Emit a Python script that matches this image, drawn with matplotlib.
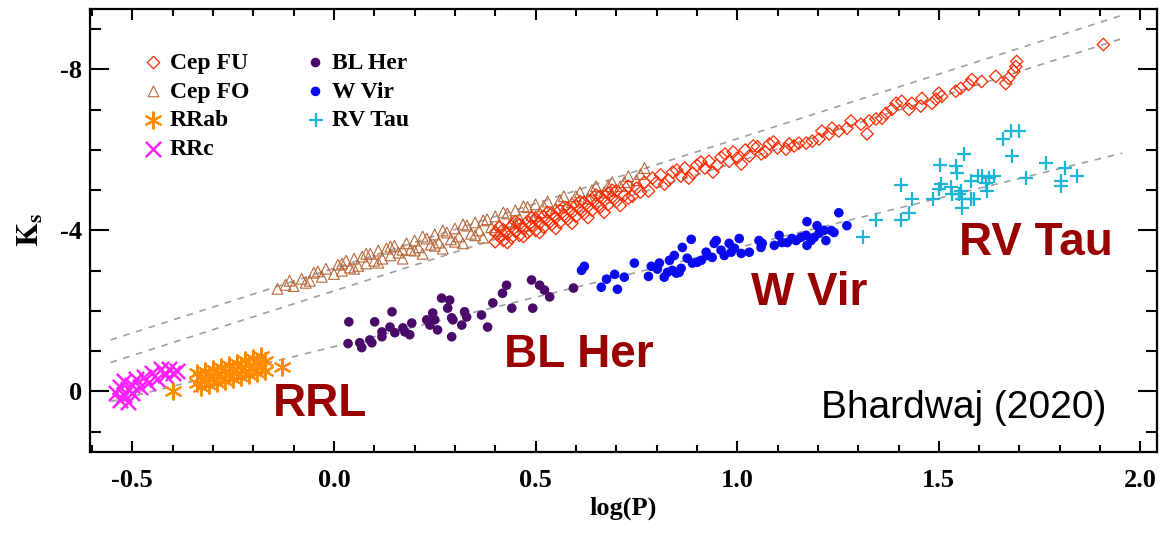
import matplotlib
matplotlib.use("Agg")
import matplotlib.pyplot as plt
from matplotlib.ticker import MultipleLocator

plt.rcParams['font.family'] = 'Liberation Serif'
plt.rcParams['font.weight'] = 'bold'
plt.rcParams['mathtext.fontset'] = 'stix'

# ---- data: (log P, Ks) ----
cepfu_logp = [0.40, 0.40, 0.41, 0.42, 0.42, 0.43, 0.44, 0.44, 0.45, 0.46, 0.46, 0.47,
              0.48, 0.48, 0.49, 0.50, 0.50, 0.51, 0.52, 0.52, 0.53, 0.54, 0.54, 0.55,
              0.56, 0.56, 0.57, 0.58, 0.58, 0.59, 0.60, 0.60, 0.61, 0.62, 0.62, 0.63,
              0.64, 0.64, 0.65, 0.66, 0.66, 0.67, 0.68, 0.68, 0.69, 0.70, 0.70, 0.72,
              0.73, 0.74, 0.75, 0.77, 0.78, 0.80, 0.81, 0.83, 0.84, 0.86, 0.87, 0.89,
              0.90, 0.92, 0.93, 0.95, 0.96, 0.98, 0.99, 1.00, 1.02, 1.03, 1.05, 1.07,
              1.08, 1.10,
              0.41, 0.43, 0.45, 0.47, 0.49, 0.51, 0.53, 0.55, 0.57, 0.59, 0.61, 0.63,
              0.65, 0.67, 0.69, 0.71, 0.73, 0.76, 0.79, 0.82, 0.85, 0.88, 0.91, 0.94,
              0.97, 1.01, 1.04, 1.06, 1.09,
              1.121, 1.129, 1.141, 1.153, 1.171, 1.186, 1.203, 1.210, 1.228, 1.235,
              1.252, 1.272, 1.282, 1.307, 1.322, 1.327, 1.344, 1.359, 1.369, 1.384,
              1.394, 1.408, 1.426, 1.433, 1.455, 1.458, 1.483, 1.493, 1.500, 1.507,
              1.542, 1.554, 1.574, 1.582, 1.606, 1.641, 1.666, 1.673, 1.686, 1.691,
              1.693, 1.908]
cepfu_ks = [-3.72, -3.95, -3.85, -4.02, -3.75, -3.92, -4.10, -3.82, -3.98, -4.15, -3.88, -4.05,
            -4.22, -3.95, -4.12, -4.30, -4.00, -4.18, -4.35, -4.08, -4.25, -4.42, -4.15, -4.32,
            -4.50, -4.20, -4.38, -4.55, -4.28, -4.45, -4.62, -4.35, -4.52, -4.70, -4.42, -4.60,
            -4.78, -4.50, -4.66, -4.85, -4.58, -4.74, -4.92, -4.64, -4.82, -4.98, -4.72, -4.88,
            -5.10, -4.85, -5.05, -5.20, -4.98, -5.20, -5.38, -5.25, -5.45, -5.35, -5.55, -5.42,
            -5.62, -5.55, -5.72, -5.62, -5.82, -5.72, -5.95, -5.80, -6.00, -5.85, -6.08, -5.95,
            -6.15, -6.05,
            -4.08, -3.70, -4.22, -3.85, -4.32, -3.95, -4.45, -4.05, -4.58, -4.18, -4.72, -4.32,
            -4.88, -4.45, -5.00, -4.62, -4.80, -4.95, -5.30, -5.15, -5.50, -5.30, -5.70, -5.45,
            -5.90, -5.65, -6.10, -5.90, -6.20,
            -6.02, -6.15, -6.10, -6.17, -6.17, -6.22, -6.27, -6.47, -6.40, -6.54,
            -6.47, -6.54, -6.72, -6.64, -6.40, -6.72, -6.77, -6.79, -6.91, -7.01,
            -7.16, -7.21, -7.01, -7.16, -7.09, -7.28, -7.16, -7.26, -7.41, -7.33,
            -7.46, -7.53, -7.63, -7.75, -7.70, -7.83, -7.65, -7.78, -7.95, -8.07,
            -8.20, -8.62]

cepfo_logp = [-0.14, -0.12, -0.10, -0.08, -0.06, -0.05, -0.03, -0.02, 0.00, 0.01, 0.02, 0.03,
              0.04, 0.05, 0.06, 0.07, 0.08, 0.09, 0.10, 0.11, 0.12, 0.13, 0.14, 0.15,
              0.16, 0.17, 0.18, 0.19, 0.20, 0.21, 0.22, 0.23, 0.24, 0.25, 0.26, 0.27,
              0.28, 0.29, 0.30, 0.31, 0.32, 0.33, 0.34, 0.35, 0.36, 0.37, 0.38, 0.39,
              0.40, 0.41, 0.42, 0.43, 0.44, 0.45, 0.46, 0.47, 0.48, 0.49, 0.50, 0.51,
              0.53, 0.55, 0.57, 0.59, 0.61, 0.63, 0.65, 0.67, 0.69, 0.71, 0.73, 0.75, 0.77,
              -0.11, -0.07, -0.04, 0.02, 0.05, 0.08, 0.11, 0.14, 0.17, 0.20, 0.22, 0.25,
              0.27, 0.30, 0.32, 0.35, 0.37, 0.40, 0.42, 0.45, 0.47, 0.50, 0.52, 0.56,
              0.60, 0.64, 0.68, 0.72, 0.76]
cepfo_ks = [-2.55, -2.65, -2.62, -2.80, -2.75, -2.95, -2.85, -3.05, -2.92, -3.15, -3.00, -3.25,
            -3.08, -3.30, -3.12, -3.35, -3.18, -3.42, -3.25, -3.50, -3.30, -3.55, -3.38, -3.62,
            -3.45, -3.30, -3.68, -3.52, -3.75, -3.58, -3.42, -3.80, -3.65, -3.90, -3.70, -3.55,
            -3.95, -3.78, -4.05, -3.85, -3.68, -4.12, -3.92, -4.20, -4.00, -3.82, -4.28, -4.08,
            -4.35, -4.15, -3.98, -4.42, -4.22, -4.50, -4.30, -4.12, -4.58, -4.38, -4.65, -4.45,
            -4.72, -4.55, -4.85, -4.70, -4.95, -4.80, -5.10, -4.95, -5.20, -5.10, -5.35, -5.25, -5.55,
            -2.75, -2.70, -2.98, -3.18, -3.05, -3.42, -3.20, -3.60, -3.52, -3.50, -3.85, -3.62,
            -4.00, -3.72, -4.15, -3.88, -4.25, -4.02, -4.45, -4.18, -4.60, -4.35, -4.60, -4.75,
            -4.85, -5.00, -5.10, -5.20, -5.40]

rrab_logp = [-0.34, -0.34, -0.33, -0.33, -0.32, -0.32, -0.31, -0.31, -0.30, -0.30, -0.29, -0.29,
             -0.28, -0.28, -0.27, -0.27, -0.26, -0.26, -0.25, -0.25, -0.24, -0.24, -0.23, -0.23,
             -0.22, -0.22, -0.21, -0.21, -0.20, -0.20, -0.19, -0.19, -0.18, -0.18, -0.17, -0.17,
             -0.40, -0.13]
rrab_ks = [-0.20, -0.45, -0.10, -0.35, -0.25, -0.50, -0.15, -0.40, -0.30, -0.55, -0.20, -0.45,
           -0.35, -0.60, -0.25, -0.50, -0.40, -0.65, -0.30, -0.55, -0.45, -0.70, -0.35, -0.60,
           -0.50, -0.78, -0.40, -0.65, -0.55, -0.82, -0.45, -0.72, -0.60, -0.88, -0.50, -0.75,
           -0.02, -0.62]

rrc_logp = [-0.54, -0.53, -0.53, -0.52, -0.52, -0.51, -0.51, -0.50, -0.50, -0.49,
            -0.48, -0.47, -0.46, -0.45, -0.44, -0.43, -0.42, -0.41, -0.40, -0.39]
rrc_ks = [0.05, -0.10, 0.20, -0.25, 0.10, -0.05, 0.25, -0.15, 0.05, -0.30,
          -0.10, -0.35, -0.20, -0.45, -0.30, -0.55, -0.40, -0.55, -0.45, -0.50]

blher_logp = [0.037, 0.035, 0.064, 0.069, 0.089, 0.094, 0.101, 0.119, 0.119, 0.144, 0.139,
              0.151, 0.171, 0.176, 0.188, 0.193, 0.230, 0.238, 0.245, 0.250, 0.257, 0.267,
              0.287, 0.282, 0.292, 0.295, 0.292, 0.317, 0.324, 0.329, 0.366, 0.381, 0.394,
              0.418, 0.428, 0.441, 0.490, 0.493, 0.510, 0.522, 0.535, 0.594]
blher_ks = [-1.73, -1.19, -1.21, -1.09, -1.28, -1.21, -1.73, -1.48, -1.36, -1.98, -1.60,
            -1.46, -1.58, -1.48, -1.41, -1.70, -1.78, -1.65, -1.95, -1.78, -1.53, -2.32,
            -2.27, -2.07, -1.83, -1.78, -1.36, -1.65, -1.98, -1.85, -1.90, -1.60, -2.20,
            -2.44, -2.64, -2.07, -2.77, -2.07, -2.64, -2.52, -2.35, -2.57]

wvir_logp = [0.614, 0.621, 0.663, 0.676, 0.696, 0.703, 0.720, 0.745, 0.780, 0.787, 0.802,
             0.807, 0.819, 0.827, 0.832, 0.839, 0.844, 0.849, 0.856, 0.861, 0.864, 0.876,
             0.886, 0.889, 0.901, 0.911, 0.923, 0.926, 0.938, 0.943, 0.948, 0.960, 0.968,
             0.980, 0.985, 0.993, 1.005, 1.010, 1.030, 1.054, 1.059, 1.062, 1.092, 1.104,
             1.111, 1.124, 1.136, 1.146, 1.158, 1.171, 1.173, 1.173, 1.183, 1.191, 1.198,
             1.203, 1.215, 1.220, 1.233, 1.240, 1.252, 1.272]
wvir_ks = [-3.01, -3.11, -2.59, -2.79, -2.91, -2.54, -2.84, -3.19, -2.86, -3.11, -3.04,
           -3.19, -2.84, -2.96, -3.26, -3.01, -3.38, -2.94, -2.96, -3.06, -3.58, -3.31,
           -3.78, -3.19, -3.21, -3.26, -3.46, -3.38, -3.33, -3.68, -3.75, -3.51, -3.38,
           -3.68, -3.46, -3.56, -3.80, -3.43, -3.46, -3.75, -3.58, -3.68, -3.63, -3.88,
           -3.70, -3.70, -3.80, -3.75, -3.83, -3.88, -4.22, -3.63, -3.75, -3.83, -4.12,
           -3.93, -4.00, -3.75, -4.00, -3.95, -4.44, -4.12]

rvtau_logp = [1.312, 1.344, 1.406, 1.406, 1.426, 1.433, 1.485, 1.500, 1.502, 1.505, 1.530,
              1.542, 1.545, 1.532, 1.554, 1.557, 1.557, 1.550, 1.562, 1.579, 1.579, 1.587,
              1.597, 1.606, 1.616, 1.619, 1.624, 1.636, 1.658, 1.678, 1.698, 1.681, 1.715,
              1.765, 1.802, 1.804, 1.814, 1.842]
rvtau_ks = [-3.83, -4.25, -4.25, -5.14, -4.44, -4.77, -4.77, -5.04, -5.63, -5.16, -5.09,
            -5.60, -5.43, -4.91, -4.99, -4.79, -4.57, -4.91, -5.90, -5.23, -4.79, -4.79,
            -5.36, -5.36, -5.19, -4.99, -5.31, -5.36, -6.27, -6.47, -6.47, -5.85, -5.31,
            -5.68, -5.23, -5.11, -5.56, -5.36]

# dashed PL relations (end points)
pl_logp = [-0.554, 1.955]
pl_fo_ks = [-1.28, -9.35]
pl_fu_ks = [-0.72, -8.77]
pl_t2_ks = [0.25, -5.92]

fig = plt.figure(figsize=(11.76, 5.36), dpi=100)
ax = fig.add_axes([0.0765, 0.157, 0.907, 0.826])

for ks in (pl_fo_ks, pl_fu_ks, pl_t2_ks):
    ax.plot(pl_logp, ks, ls=(0, (4, 4)), color='#9aa0a6', lw=1.2, zorder=1)

ax.scatter(cepfo_logp, cepfo_ks, marker='^', s=60, facecolors='none',
           edgecolors='#b8683a', linewidths=0.8, label='Cep FO', zorder=2)
ax.scatter(cepfu_logp, cepfu_ks, marker='D', s=40, facecolors='none',
           edgecolors='#ff2a00', linewidths=0.9, label='Cep FU', zorder=3)
ax.scatter(rrab_logp, rrab_ks, marker=(6, 2, 0), s=140, color='#ff8c00',
           linewidths=1.5, label='RRab', zorder=3)
ax.scatter(rrc_logp, rrc_ks, marker='x', s=120, color='#ff22ff',
           linewidths=1.8, label='RRc', zorder=3)
ax.scatter(blher_logp, blher_ks, marker='o', s=48, color='#4a0a6a',
           edgecolors='none', label='BL Her', zorder=3)
ax.scatter(wvir_logp, wvir_ks, marker='o', s=48, color='#0a0af0',
           edgecolors='none', label='W Vir', zorder=3)
ax.scatter(rvtau_logp, rvtau_ks, marker='+', s=110, color='#1ab4d4',
           linewidths=1.6, label='RV Tau', zorder=3)

ax.set_xlim(-0.605, 2.04)
ax.set_ylim(1.5, -9.5)
ax.xaxis.set_major_locator(MultipleLocator(0.5))
ax.xaxis.set_minor_locator(MultipleLocator(0.1))
ax.yaxis.set_major_locator(MultipleLocator(4))
ax.yaxis.set_minor_locator(MultipleLocator(1))
ax.xaxis.set_major_formatter(matplotlib.ticker.FormatStrFormatter('%.1f'))
ax.yaxis.set_major_formatter(matplotlib.ticker.FormatStrFormatter('%d'))

ax.tick_params(axis='both', which='both', direction='in', top=True, right=True,
               labelsize=19, width=1.5, colors='black')
ax.tick_params(axis='y', which='major', length=14, pad=6)
ax.tick_params(axis='y', which='minor', length=8)
ax.tick_params(axis='x', which='major', length=8, pad=12)
ax.tick_params(axis='x', which='minor', length=5)
for sp in ax.spines.values():
    sp.set_linewidth(1.6)

ax.set_xlabel('log(P)', fontsize=19, fontweight='bold', labelpad=4)
ax.set_ylabel(r'$\mathbf{K_s}$', fontsize=22, labelpad=10)

handles, labels = ax.get_legend_handles_labels()
order = ['Cep FU', 'Cep FO', 'RRab', 'RRc', 'BL Her', 'W Vir', 'RV Tau']
hmap = dict(zip(labels, handles))
ax.legend([hmap[k] for k in order], order, loc='upper left', ncol=2,
          bbox_to_anchor=(0.033, 0.94), frameon=False, fontsize=17,
          handletextpad=0.2, handlelength=1.0, labelspacing=0.31,
          columnspacing=2.3, borderpad=0.2)

lab = dict(fontsize=33, fontweight='bold', color='#990000', family='Liberation Sans',
           ha='center', va='center')
ax.text(-0.035, 0.32, 'RRL', **lab)
ax.text(0.606, -0.91, 'BL Her', **lab)
ax.text(1.178, -2.44, 'W Vir', **lab)
ax.text(1.74, -3.68, 'RV Tau', **lab)
ax.text(1.562, 0.40, 'Bhardwaj (2020)', fontsize=28, color='black',
        family='Liberation Sans', fontweight='normal', ha='center', va='center')

fig.savefig('out.png', dpi=100)
